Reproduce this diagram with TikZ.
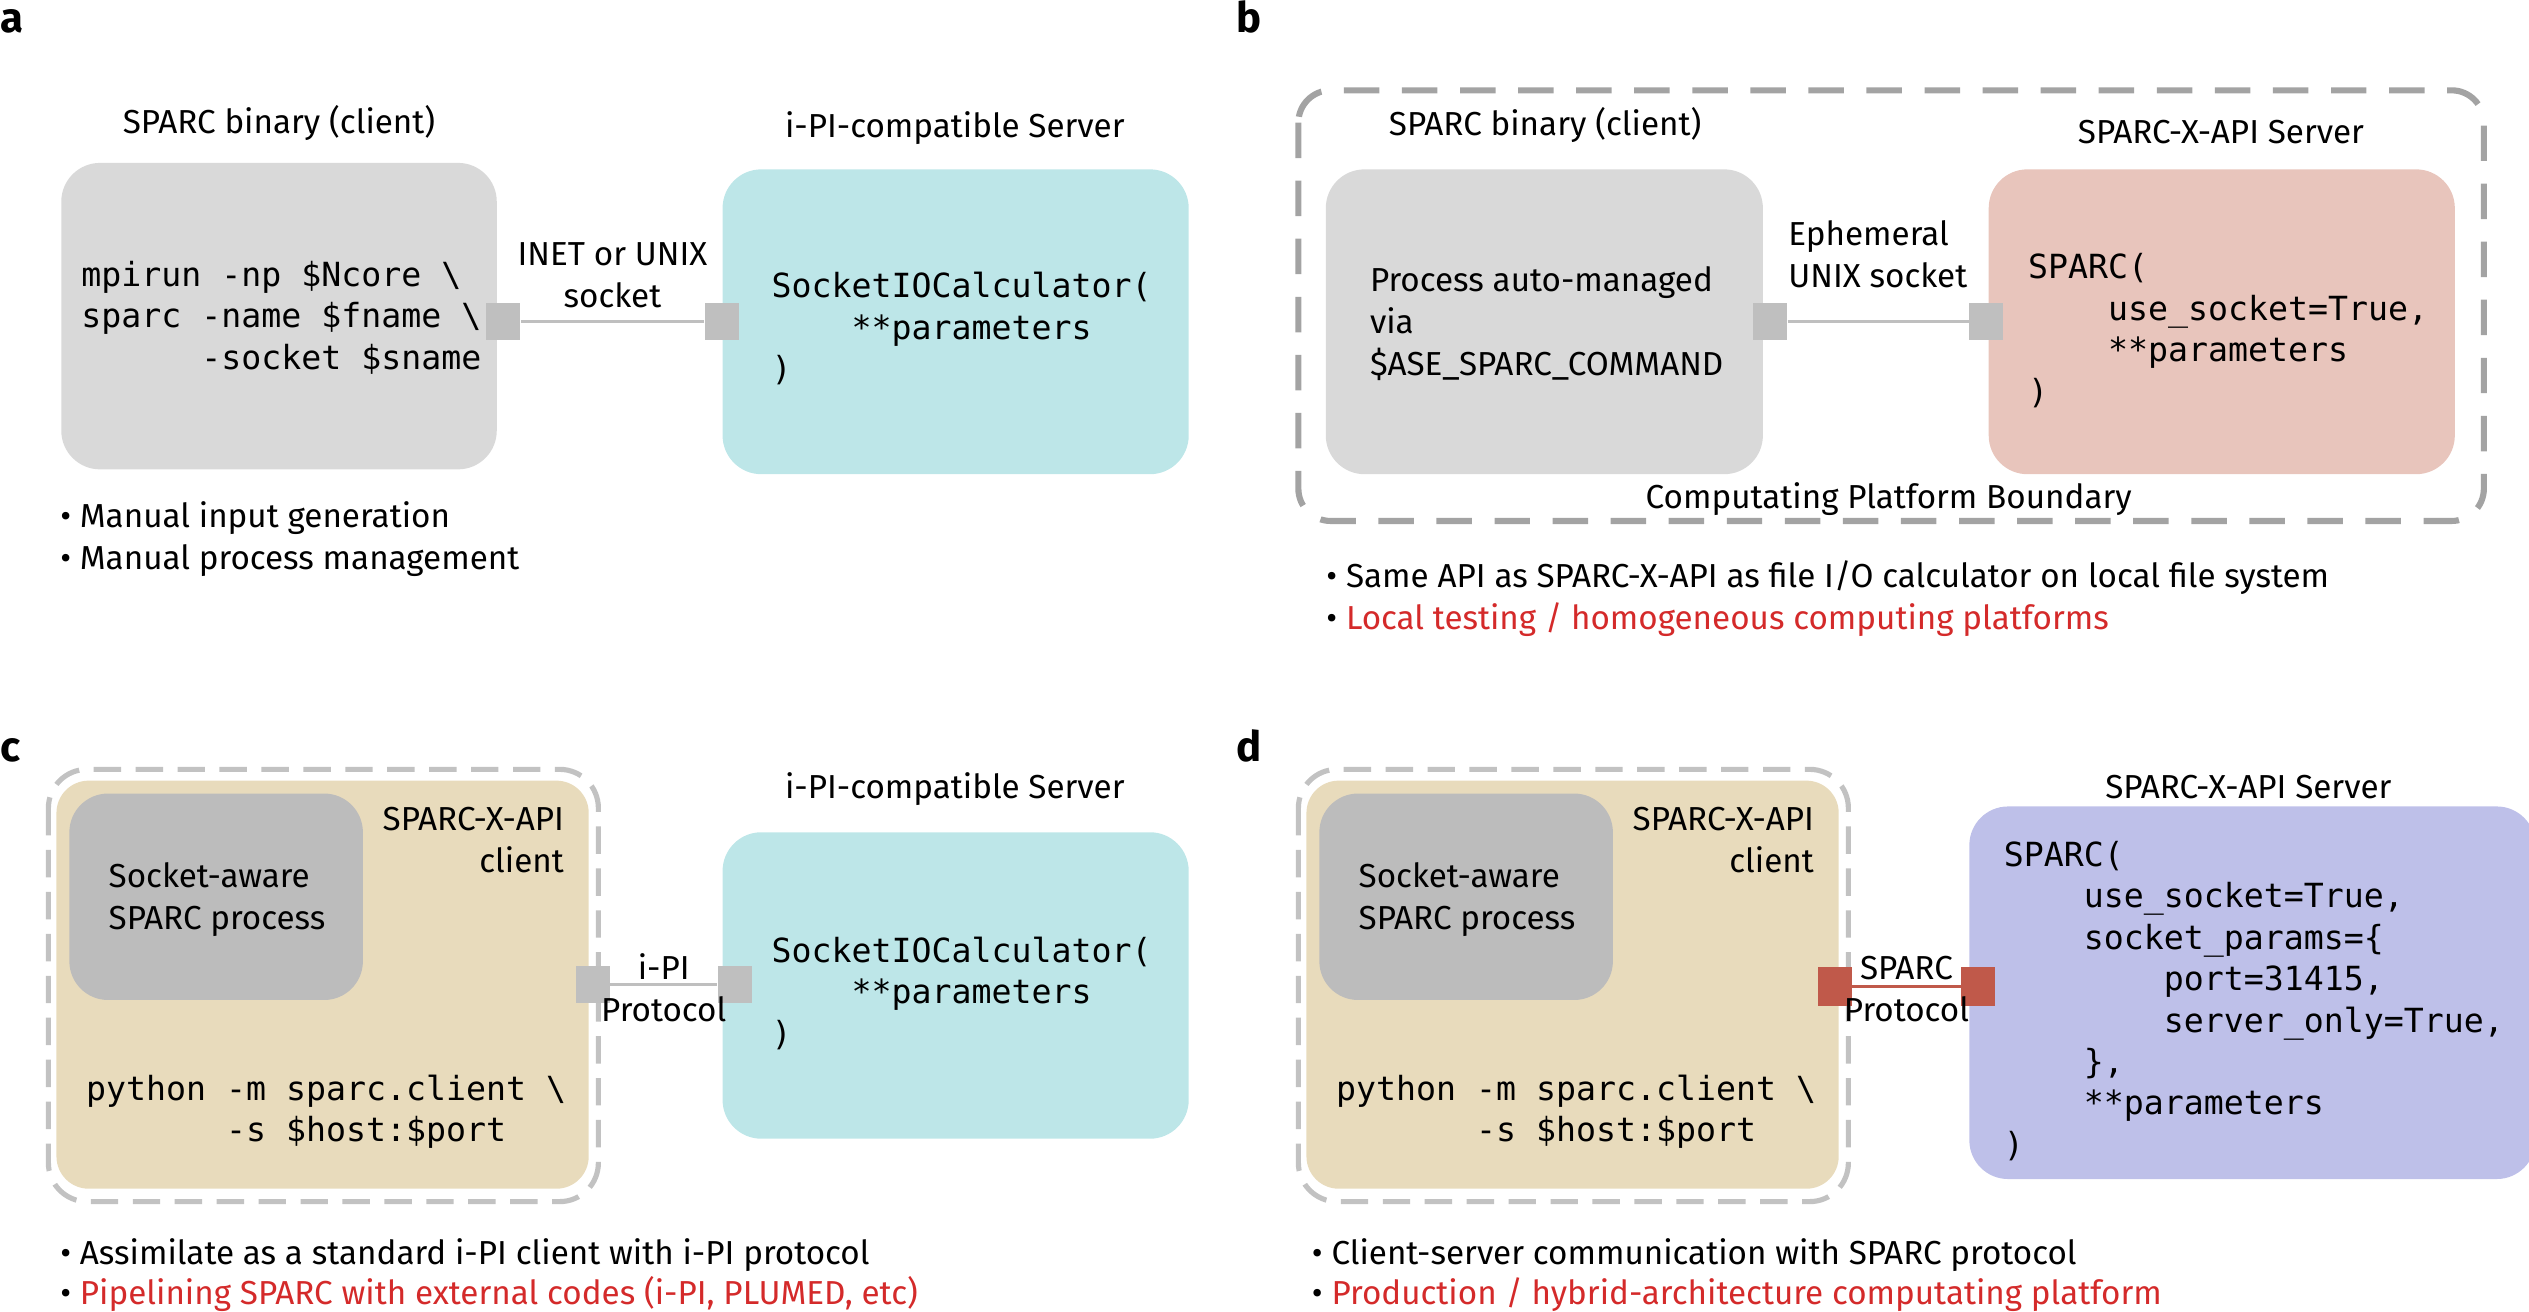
\documentclass[tikz,border=0pt]{standalone}
\usepackage{fontspec}
\setmainfont{Fira Sans}
\setmonofont{DejaVu Sans Mono}
\definecolor{clientgray}{HTML}{D9D9D9}
\definecolor{procgray}{HTML}{BCBCBC}
\definecolor{portgray}{HTML}{BFBFBF}
\definecolor{ipicyan}{HTML}{BDE6E8}
\definecolor{serverpink}{HTML}{E8C5BC}
\definecolor{clienttan}{HTML}{E8DBBC}
\definecolor{serverblue}{HTML}{BEC0E9}
\definecolor{sparcred}{HTML}{C0594A}
\definecolor{boundgray}{HTML}{A3A3A3}
\definecolor{dashgray}{HTML}{C2C2C2}
\definecolor{notered}{HTML}{D42A2A}
\begin{document}
\begin{tikzpicture}[x=0.5pt,y=-0.5pt,
  txt/.style={font=\fontsize{10.3}{13}\selectfont,inner sep=0pt,align=left},
  code/.style={font=\ttfamily\fontsize{10.3}{12.85}\selectfont,inner sep=0pt,align=left},
  panel/.style={font=\bfseries\fontsize{13}{15}\selectfont,inner sep=0pt,anchor=base west},
  blob/.style={rounded corners=12pt,inner sep=0pt},
  port/.style={fill=portgray,minimum width=10.5pt,minimum height=11.5pt,inner sep=0pt},
  link/.style={draw=portgray,line width=1pt},
  boundary/.style={draw=boundgray,line width=1.9pt,dash pattern=on 11pt off 7pt,rounded corners=10pt},
  wrapper/.style={draw=dashgray,line width=1.6pt,dash pattern=on 8.5pt off 4.5pt,rounded corners=12pt}]
\useasboundingbox (0,0) rectangle (1568,813.4);
% panel letters
\node[panel] (la) at (0,20) {a};
\node[panel] (lb) at (766,20) {b};
\node[panel] (lc) at (0,472) {c};
\node[panel] (ld) at (766,472) {d};
% a: binary client and i-PI server
\node[blob,fill=clientgray,minimum width=135pt,minimum height=95pt] (binA) at (173,196) {};
\node[blob,fill=ipicyan,minimum width=144.5pt,minimum height=94.5pt] (srvA) at (592.5,199.5) {};
\node[txt,anchor=base] (tbinA) at (173,83) {SPARC binary (client)};
\node[txt,anchor=base] (tsrvA) at (592,85) {i-PI-compatible Server};
% multi-line nodes sit on their last baseline
\node[code,anchor=base west] (cbinA) at (50,229) {mpirun -np \$Ncore \textbackslash\\sparc -name \$fname \textbackslash\\~~~~~~-socket \$sname};
\node[code,anchor=base west] (csrvA) at (478,236) {SocketIOCalculator(\\~~~~**parameters\\)};
\node[port] (pAl) at (312,199.5) {};
\node[port] (pAr) at (447.5,199.5) {};
\draw[link] (pAl) -- (pAr);
\path (pAl) -- (pAr) node[midway,above=4pt,txt,align=center] (sockA) {INET or UNIX\\socket};
\node[txt,anchor=base west] (nA1) at (37,327) {• Manual input generation};
\node[txt,anchor=base west] (nA2) at (37,353) {• Manual process management};
% b: auto-managed process in one platform
\draw[boundary] (805,56) rectangle (1540,323);
\node[blob,fill=clientgray,minimum width=135.5pt,minimum height=94.5pt] (binB) at (957.5,199.5) {};
\node[blob,fill=serverpink,minimum width=144.5pt,minimum height=94.5pt] (srvB) at (1377.5,199.5) {};
\node[txt,anchor=base] (tbinB) at (958,84) {SPARC binary (client)};
\node[txt,anchor=base] (tsrvB) at (1377,89) {SPARC-X-API Server};
\node[txt,anchor=base west] (cbinB) at (849,233) {Process auto-managed\\via\\\$ASE\_SPARC\_COMMAND};
\node[code,anchor=base west] (csrvB) at (1257,250) {SPARC(\\~~~~use\_socket=True,\\~~~~**parameters\\)};
\node[port] (pBl) at (1097.5,199.5) {};
\node[port] (pBr) at (1231.5,199.5) {};
\draw[link] (pBl) -- (pBr);
\node[txt,anchor=south west] (sockB) at ([yshift=4.5pt]pBl.north east) {Ephemeral\\UNIX socket};
\node[txt,anchor=base] (bndB) at (1171,315) {Computating Platform Boundary};
\node[txt,anchor=base west] (nB1) at (822,364) {• Same API as SPARC-X-API as file I/O calculator on local file system};
\node[txt,anchor=base west] (nB2) at (822,390) {• \textcolor{notered}{Local testing / homogeneous computing platforms}};
% c: socket-aware client with i-PI server
\draw[wrapper] (30,477) rectangle (371,745);
\node[blob,fill=clienttan,rounded corners=10pt,minimum width=165pt,minimum height=126.5pt] (cliC) at (200,610.5) {};
\node[blob,fill=procgray,minimum width=91pt,minimum height=64pt] (procC) at (134,556) {};
\node[txt,anchor=base west] (tprocC) at (67,576) {Socket-aware\\SPARC process};
\node[txt,anchor=base east,align=right] (tcliC) at (350,541) {SPARC-X-API\\client};
\node[code,anchor=base west] (ccliC) at (53,708) {python -m sparc.client \textbackslash\\~~~~~~~-s \$host:\$port};
\node[blob,fill=ipicyan,minimum width=144.5pt,minimum height=95pt] (srvC) at (592.5,611) {};
\node[txt,anchor=base] (tsrvC) at (592,495) {i-PI-compatible Server};
\node[code,anchor=base west] (csrvC) at (478,648) {SocketIOCalculator(\\~~~~**parameters\\)};
\node[port] (pCl) at (367.5,610.5) {};
\node[port] (pCr) at (455.5,610.5) {};
\draw[link] (pCl) -- (pCr);
\path (pCl) -- (pCr) node[midway,yshift=-1pt,txt,align=center] (protC) {i-PI\\Protocol};
\node[txt,anchor=base west] (nC1) at (37,784) {• Assimilate as a standard i-PI client with i-PI protocol};
\node[txt,anchor=base west] (nC2) at (37,809) {• \textcolor{notered}{Pipelining SPARC with external codes (i-PI, PLUMED, etc)}};
% d: socket-aware client with SPARC-X-API server
\draw[wrapper] (805,477) rectangle (1146,745);
\node[blob,fill=clienttan,rounded corners=10pt,minimum width=165pt,minimum height=126.5pt] (cliD) at (975,610.5) {};
\node[blob,fill=procgray,minimum width=91pt,minimum height=64pt] (procD) at (909,556) {};
\node[txt,anchor=base west] (tprocD) at (842,576) {Socket-aware\\SPARC process};
\node[txt,anchor=base east,align=right] (tcliD) at (1125,541) {SPARC-X-API\\client};
\node[code,anchor=base west] (ccliD) at (828,708) {python -m sparc.client \textbackslash\\~~~~~~~-s \$host:\$port};
\node[blob,fill=serverblue,minimum width=175.5pt,minimum height=115.5pt] (srvD) at (1396.5,615.5) {};
\node[txt,anchor=base] (tsrvD) at (1394,495) {SPARC-X-API Server};
\node[code,anchor=base west] (csrvD) at (1242,717) {SPARC(\\~~~~use\_socket=True,\\~~~~socket\_params=\{\\~~~~~~~~port=31415,\\~~~~~~~~server\_only=True,\\~~~~\},\\~~~~**parameters\\)};
\node[port,fill=sparcred,minimum height=12pt] (pDl) at (1137.5,611.5) {};
\node[port,fill=sparcred,minimum height=12pt] (pDr) at (1226.5,611.5) {};
\draw[link,draw=sparcred] (pDl) -- (pDr);
\path (pDl) -- (pDr) node[midway,yshift=-1pt,txt,align=center] (protD) {SPARC\\Protocol};
\node[txt,anchor=base west] (nD1) at (813,784) {• Client-server communication with SPARC protocol};
\node[txt,anchor=base west] (nD2) at (813,809) {• \textcolor{notered}{Production / hybrid-architecture computating platform}};
\end{tikzpicture}
\end{document}
